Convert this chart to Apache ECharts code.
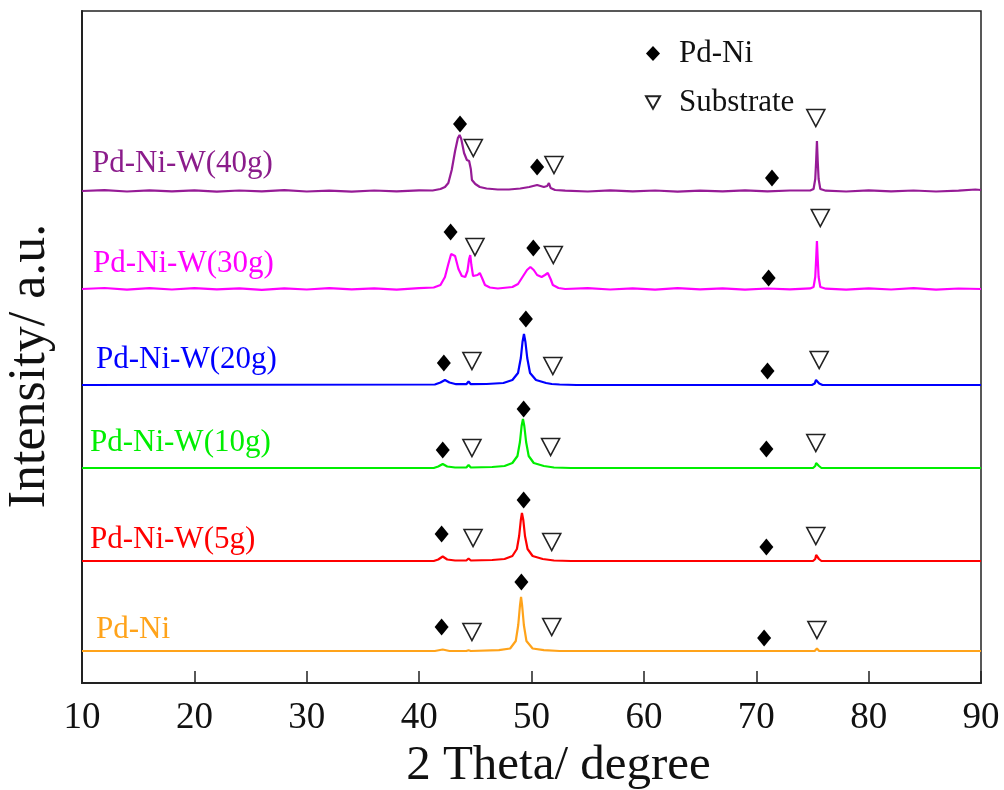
<!DOCTYPE html>
<html>
<head>
<meta charset="utf-8">
<title>XRD Pd-Ni-W</title>
<script src="https://cdn.jsdelivr.net/npm/echarts@6.0.0/dist/echarts.min.js"></script>
<style>
  html, body { margin: 0; padding: 0; background: #fff; }
  #chart { width: 1004px; height: 790px; }
</style>
</head>
<body>
<div id="chart"></div>
<script>
// sample names, bottom to top
var sampleNames = ['Pd-Ni', 'Pd-Ni-W(5g)', 'Pd-Ni-W(10g)', 'Pd-Ni-W(20g)', 'Pd-Ni-W(30g)', 'Pd-Ni-W(40g)'];
var sampleColors = ['#FFA31A', '#FF0000', '#00EE00', '#0000FF', '#FF00FF', '#961B96'];
var labelColors = ['#FFA31A', '#FF0000', '#00EE00', '#0000FF', '#FF00FF', '#8B1C8B'];
// vertical offset of each pattern (a.u.)
var offsets = [32, 122, 215, 298, 394, 492];
// where the sample name sits: [2theta, intensity above offset]
var labelPos = [[11.25, 21.5], [10.71, 21], [10.71, 25.5], [11.25, 25], [10.98, 25], [10.89, 27.5]];

// patterns: [2theta, intensity]
var pdNi = [[10, 0], [41.4, 0], [42.1, 1.5], [42.7, 0], [44.2, 0], [44.4, 0.8], [44.6, 0], [47.1, 0.8], [48.1, 2.5],
  [48.6, 10], [48.82, 26], [48.97, 45], [49.07, 54], [49.17, 45], [49.32, 26], [49.55, 10], [50.1, 2.5], [51.1, 0.8],
  [52.5, 0], [75.2, 0], [75.4, 2.5], [75.6, 0], [90, 0]];
var pdNiW5 = [[10, 0], [41.3, 0], [41.7, 1.5], [42.1, 4.5], [42.5, 1.5], [43.2, 0.5], [44.2, 0.5], [44.4, 2.5], [44.6, 0.5],
  [46.5, 1], [47.6, 2], [48.3, 5], [48.7, 12], [48.9, 25], [49.05, 41], [49.15, 48], [49.27, 41], [49.42, 25],
  [49.65, 12], [50.1, 5], [51, 2], [52, 0.5], [53.5, 0], [75.05, 0], [75.25, 2], [75.33, 6], [75.4, 8], [75.48, 6],
  [75.58, 2], [75.8, 0], [90, 0]];
var pdNiW10 = [[10, 0], [41.3, 0], [41.7, 1.5], [42.1, 4], [42.5, 1.5], [43.2, 0.5], [44.2, 0.5], [44.4, 3], [44.6, 0.5],
  [46.5, 1], [47.6, 2], [48.3, 5], [48.75, 12], [48.97, 26], [49.12, 42], [49.24, 49], [49.36, 42], [49.52, 26],
  [49.75, 12], [50.2, 5], [51.1, 2], [52, 0.5], [53.5, 0], [75.05, 0], [75.25, 2], [75.33, 5], [75.4, 6], [75.48, 5],
  [75.58, 2], [75.8, 0], [90, 0]];
var pdNiW20 = [[10, 0], [41.4, 0.5], [41.9, 2.5], [42.3, 5], [42.7, 2.5], [43.3, 0.8], [44.2, 0.8], [44.4, 3.5], [44.6, 0.8],
  [46, 1], [47.5, 2], [48.3, 5], [48.8, 12], [49.05, 27], [49.2, 43], [49.33, 51], [49.46, 43], [49.62, 27],
  [49.87, 12], [50.4, 5], [51.3, 2], [51.8, 1], [52.5, 0.5], [54, 0], [74.95, 0], [75.2, 1.5], [75.32, 5], [75.4, 7],
  [75.48, 5], [75.6, 1.5], [75.9, 0], [90, 0]];
var pdNiW30 = [[10, 0], [12, 1], [14, -0.6], [16, 0.8], [18, -0.5], [20, 0.9], [22, -0.4], [24, 0.6], [26, -0.8], [28, 0.7],
  [30, -0.5], [32, 0.9], [34, -0.4], [36, 0.6], [38, -0.6], [40, 0.8], [41.3, 1.5], [41.9, 4], [42.3, 12], [42.6, 25],
  [42.85, 35], [43.0, 37], [43.2, 33], [43.5, 20], [43.8, 13], [44.1, 12], [44.3, 18], [44.45, 30], [44.55, 34],
  [44.65, 24], [44.8, 13], [44.97, 11], [45.2, 14], [45.4, 16], [45.6, 11], [45.86, 4], [46.3, 1.5], [47, 0.5],
  [48.3, 2], [48.8, 5], [49.2, 12], [49.6, 19], [49.9, 22], [50.2, 19], [50.5, 14], [50.9, 12], [51.2, 14],
  [51.45, 16], [51.7, 10], [51.9, 4], [52.4, 1], [53, 0], [55, 0.8], [57, -0.5], [59, 0.7], [61, -0.6], [63, 0.9],
  [65, -0.4], [67, 0.6], [69, -0.7], [71, 0.5], [73, -0.3], [74.8, 0.6], [75.1, 2], [75.25, 12], [75.33, 30],
  [75.4, 48], [75.47, 30], [75.55, 12], [75.7, 2], [76.2, 0.3], [78, -0.6], [80, 0.7], [82, -0.5], [84, 0.8],
  [86, -0.6], [88, 0.5], [90, 0]];
var pdNiW40 = [[10, 0], [12, 0.8], [14, -0.5], [16, 0.6], [18, -0.3], [20, 0.7], [22, -0.6], [24, 0.5], [26, -0.4], [28, 0.8],
  [30, -0.5], [32, 0.4], [34, -0.6], [36, 0.5], [38, -0.3], [40, 0.6], [41.2, 0.5], [41.9, 2], [42.3, 4], [42.6, 8],
  [42.9, 21], [43.2, 40], [43.45, 53], [43.6, 56], [43.75, 52], [44.0, 38], [44.25, 31], [44.45, 30], [44.6, 22],
  [44.7, 11], [45.0, 7], [45.4, 4], [46, 2.5], [47, 1.5], [48, 1.5], [49, 2.5], [49.8, 4], [50.5, 6], [51.1, 4],
  [51.4, 5], [51.55, 8], [51.7, 3], [52.1, 1], [53, 0.3], [55, -0.5], [57, 0.6], [59, -0.4], [61, 0.5], [63, -0.6],
  [65, 0.4], [67, -0.3], [69, 0.6], [71, -0.4], [73, 0.5], [74.8, 0.5], [75.1, 2], [75.25, 12], [75.33, 30],
  [75.4, 50], [75.47, 30], [75.55, 12], [75.7, 2], [76.2, 0.3], [78, -0.5], [80, 0.6], [82, -0.4], [84, 0.5],
  [86, -0.5], [88, 0.4], [89.5, 1.5], [90, 1]];
var patterns = [pdNi, pdNiW5, pdNiW10, pdNiW20, pdNiW30, pdNiW40];

// phase marks above each pattern: [2theta, height above offset]
var pdNiMarks = [
  [[42.0, 24], [49.1, 69], [70.7, 13]],
  [[42.0, 27], [49.3, 61], [70.9, 14]],
  [[42.1, 18], [49.3, 59], [70.9, 19]],
  [[42.2, 22], [49.5, 66], [71.0, 14]],
  [[42.8, 57], [50.16, 41], [71.1, 11]],
  [[43.64, 67], [50.5, 24], [71.4, 13]]
];
var substrateMarks = [
  [[44.7, 19], [51.8, 24], [75.4, 21]],
  [[44.8, 23], [51.8, 19], [75.3, 25]],
  [[44.7, 20], [51.7, 21], [75.3, 25]],
  [[44.7, 24], [51.9, 19], [75.6, 25]],
  [[44.97, 42], [51.94, 34], [75.7, 71]],
  [[44.82, 43], [52.0, 26], [75.3, 73]]
];

var xTicks = { min: 10, max: 90, interval: 10 };
var serif = '"Liberation Serif", "Times New Roman", serif';
var triPath = 'path://M0,0L20,0L10,18Z';

function shift(points, off) {
  return points.map(function (p) { return [p[0], p[1] + off]; });
}

var chart = echarts.init(document.getElementById('chart'));

var series = [];
patterns.forEach(function (pts, i) {
  series.push({
    name: 'pattern ' + sampleNames[i],
    type: 'line',
    data: shift(pts, offsets[i]),
    showSymbol: false,
    symbol: 'none',
    lineStyle: { color: sampleColors[i], width: 2.2 },
    z: 2,
    markPoint: {
      symbol: 'circle',
      symbolSize: 0,
      silent: true,
      label: {
        show: true,
        position: 'inside',
        align: 'left',
        verticalAlign: 'middle',
        formatter: sampleNames[i],
        color: labelColors[i],
        fontFamily: serif,
        fontSize: 31
      },
      data: [{ coord: [labelPos[i][0], labelPos[i][1] + offsets[i]] }]
    }
  });
});

var diamonds = [];
var triangles = [];
for (var i = 0; i < offsets.length; i++) {
  diamonds = diamonds.concat(shift(pdNiMarks[i], offsets[i]));
  triangles = triangles.concat(shift(substrateMarks[i], offsets[i]));
}

series.push({
  name: 'Pd-Ni',
  type: 'scatter',
  data: diamonds,
  symbol: 'diamond',
  symbolSize: [14, 17],
  itemStyle: { color: '#000', opacity: 1 },
  z: 5
});
series.push({
  name: 'Substrate',
  type: 'scatter',
  data: triangles,
  symbol: triPath,
  symbolSize: [18, 17],
  itemStyle: { color: '#fff', borderColor: '#222', borderWidth: 1.6, opacity: 1 },
  z: 5
});

var option = {
  animation: false,
  backgroundColor: '#fff',
  grid: {
    left: 82, right: 23, top: 11, bottom: 107,
    show: true,
    borderColor: '#222',
    borderWidth: 1.5,
    outerBoundsMode: 'none'
  },
  legend: {
    data: [
      { name: 'Pd-Ni', icon: 'diamond' },
      { name: 'Substrate', icon: triPath }
    ],
    orient: 'vertical',
    left: 640,
    top: 33,
    itemWidth: 14,
    itemHeight: 15,
    itemGap: 18,
    selectedMode: false,
    textStyle: { color: '#111', fontFamily: serif, fontSize: 31, padding: [0, 0, 0, 14] }
  },
  xAxis: {
    type: 'value',
    min: xTicks.min,
    max: xTicks.max,
    interval: xTicks.interval,
    name: '2 Theta/ degree',
    nameLocation: 'middle',
    nameGap: 58,
    nameTextStyle: { color: '#111', fontFamily: serif, fontSize: 49, padding: [0, 0, 0, 54] },
    axisLine: { lineStyle: { color: '#222', width: 2 } },
    axisTick: { inside: true, length: 12, lineStyle: { color: '#222', width: 1.5 } },
    axisLabel: { color: '#111', fontFamily: serif, fontSize: 37, margin: 17 },
    splitLine: { show: false }
  },
  yAxis: {
    type: 'value',
    min: 0,
    max: 672,
    name: 'Intensity/ a.u.',
    nameLocation: 'middle',
    nameRotate: 90,
    nameGap: 26,
    nameTextStyle: { color: '#111', fontFamily: serif, fontSize: 52, padding: [0, 38, 0, 0] },
    axisLine: { show: true, lineStyle: { color: '#222', width: 2 } },
    axisTick: { show: false },
    axisLabel: { show: false },
    splitLine: { show: false }
  },
  series: series
};

chart.setOption(option);
</script>
</body>
</html>
